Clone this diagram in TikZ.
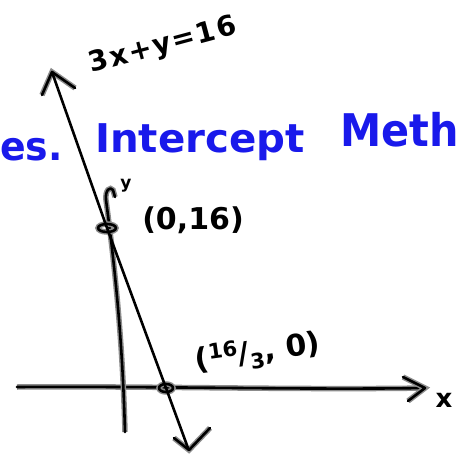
\documentclass[tikz,border=0pt]{standalone}
\usepackage{fontspec}
\setmainfont{DejaVu Sans}
\newfontfamily\spacedfont[LetterSpace=6]{DejaVu Sans}
\definecolor{penblue}{RGB}{25,25,235}
\tikzset{
  ink/.style={line width=2.6pt, line cap=round, line join=round, draw=black,
    preaction={draw=black!45, line width=5.5pt}},
  mainline/.style={line width=2.6pt, line cap=round, draw=black},
  lbl/.style={inner sep=0pt, font=\bfseries\fontsize{30}{30}\selectfont},
  bluelbl/.style={inner sep=0pt, text=penblue, font=\bfseries\fontsize{36}{36}\selectfont},
}
\begin{document}
\begin{tikzpicture}[x=1pt,y=-1pt]
\useasboundingbox (0,0) rectangle (459,461);
% blue title
\node[bluelbl, anchor=west, xscale=1.05, yscale=1.1] (ts) at (0,150) {es.};
\node[bluelbl, xscale=1.12, yscale=1.1] (ti) at (200,142) {Intercept};
\node[bluelbl, anchor=west, xscale=1.15, yscale=1.25] (tm) at (340,130) {Meth};
% labels
\node[inner sep=0pt, rotate=15, font=\spacedfont\bfseries\fontsize{28}{28}\selectfont] (eq) at (163,46) {3x+y=16};
\node[lbl] (p1) at (193,220) {(0,16)};
\node[lbl, rotate=8] (p2) at (258,353) {(\textsuperscript{16}/\textsubscript{3}, 0)};
\node[lbl, font=\bfseries\fontsize{26}{26}\selectfont] (xl) at (444,400) {x};
\node[inner sep=0pt, font=\bfseries\fontsize{17}{17}\selectfont] (yl) at (126,186) {y};
% coordinates
\coordinate (top) at (52,72);
\coordinate (bot) at (188,448);
\coordinate (yint) at (107,228);
\coordinate (xint) at (166,388);
% axes
\draw[ink] (17,387) .. controls (150,386) and (300,390) .. (425,388);
\draw[ink] (403,377) -- (425,388) -- (408,401);
\draw[ink] (125,432) .. controls (123,360) and (118,290) .. (106,200)
  .. controls (105,190) and (110,186) .. (113,190) -- (115,197);
% intercept marks
\draw[ink] (yint) ellipse [x radius=9, y radius=4];
\draw[ink] (xint) ellipse [x radius=7, y radius=4];
% arrow heads of the line
\draw[ink] (42,95) -- (top) -- (75,88);
\draw[ink] (174,438) -- (189,450) -- (210,428);
% main line
\draw[mainline] (top) -- (yint) -- (xint) -- (bot);
\end{tikzpicture}
\end{document}
